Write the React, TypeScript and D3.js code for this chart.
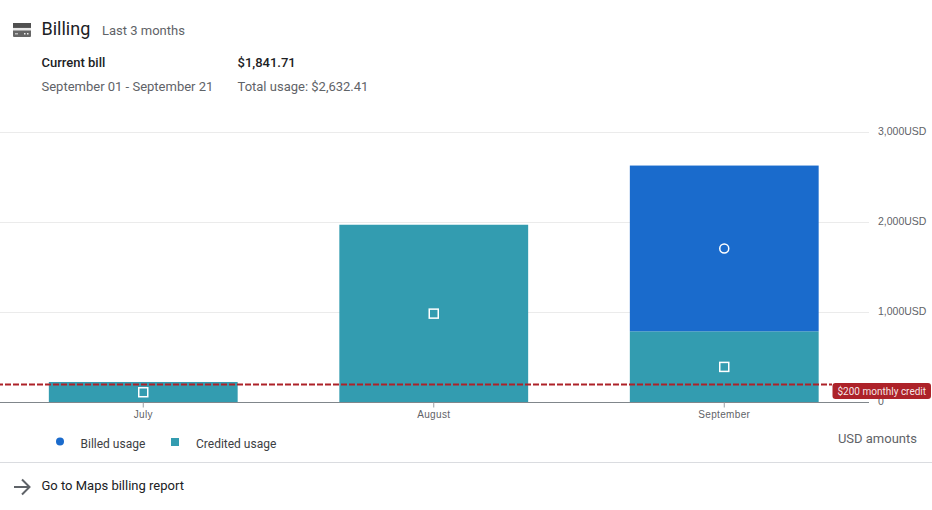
import React, { useEffect, useRef } from 'react';
import * as d3 from 'd3';

const width = 932;
const height = 510;

const months = ['July', 'August', 'September'];
const creditedUsage = [228, 1975, 791];
const billedUsage = [0, 0, 1841.71];
const yTicks = [0, 1000, 2000, 3000];
const monthlyCredit = 200;

const BILLED = '#1a6bcc';
const CREDITED = '#339cb0';
const CREDIT_RED = '#ad2229';
const FONT = 'Roboto, sans-serif';
const AXIS_FONT = '"Liberation Sans", Arial, sans-serif';

const x = d3.scaleBand<string>().domain(months).range([-2, 869.5]).paddingInner(0.35).paddingOuter(0.175);
const y = d3.scaleLinear().domain([0, 3000]).range([402.5, 132.5]);

const draw = (svg: d3.Selection<SVGSVGElement, any, any, any>) => {
  // gridlines + right hand labels
  const grid = svg.append('g');
  grid
    .selectAll('line')
    .data(yTicks.slice(1))
    .join('line')
    .attr('x1', 0)
    .attr('x2', 869)
    .attr('y1', (d) => y(d))
    .attr('y2', (d) => y(d))
    .attr('stroke', '#ebebeb');
  grid
    .selectAll('text')
    .data(yTicks)
    .join('text')
    .attr('x', 878)
    .attr('y', (d) => y(d) + 2.5)
    .attr('font-family', AXIS_FONT)
    .attr('font-size', 10.5)
    .attr('fill', '#5f6368')
    .text((d) => (d === 0 ? '0' : `${d3.format(',')(d)}USD`));

  const stacked = d3
    .stack<number>()
    .keys(['credited', 'billed'])
    .value((i, key) => (key === 'credited' ? creditedUsage[i] : billedUsage[i]))(months.map((_, i) => i));
  const colors = [CREDITED, BILLED];

  stacked.forEach((layer, k) => {
    svg
      .append('g')
      .selectAll('rect')
      .data(layer.filter((d) => d[1] > d[0]))
      .join('rect')
      .attr('x', (d) => x(months[d.data])!)
      .attr('width', x.bandwidth())
      .attr('y', (d) => y(d[1]))
      .attr('height', (d) => y(d[0]) - y(d[1]))
      .attr('fill', colors[k]);

    // white markers in the middle of each segment
    const middles = layer.filter((d) => d[1] > d[0]);
    const cx = (d: any) => x(months[d.data])! + x.bandwidth() / 2;
    const cy = (d: any) => y((d[0] + d[1]) / 2);
    if (k === 0) {
      svg
        .append('g')
        .selectAll('rect')
        .data(middles)
        .join('rect')
        .attr('x', (d) => cx(d) - 4.5)
        .attr('y', (d) => cy(d) - 4.5)
        .attr('width', 9)
        .attr('height', 9)
        .attr('fill', 'none')
        .attr('stroke', '#fff')
        .attr('stroke-width', 1.5);
    } else {
      svg
        .append('g')
        .selectAll('circle')
        .data(middles)
        .join('circle')
        .attr('cx', cx)
        .attr('cy', cy)
        .attr('r', 4.5)
        .attr('fill', 'none')
        .attr('stroke', '#fff')
        .attr('stroke-width', 1.5);
    }
  });

  // baseline and month ticks
  svg.append('line').attr('x1', 0).attr('x2', 869).attr('y1', y(0)).attr('y2', y(0)).attr('stroke', '#80868b');
  const xAxis = svg.append('g');
  xAxis
    .selectAll('line')
    .data(months)
    .join('line')
    .attr('x1', (d) => x(d)! + x.bandwidth() / 2)
    .attr('x2', (d) => x(d)! + x.bandwidth() / 2)
    .attr('y1', y(0))
    .attr('y2', y(0) + 5)
    .attr('stroke', '#9aa0a6');
  xAxis
    .selectAll('text')
    .data(months)
    .join('text')
    .attr('x', (d) => x(d)! + x.bandwidth() / 2)
    .attr('y', 418)
    .attr('text-anchor', 'middle')
    .attr('font-family', AXIS_FONT)
    .attr('font-size', 10)
    .attr('letter-spacing', 0.35)
    .attr('fill', '#5f6368')
    .text((d) => d);

  // $200 credit line and its tag
  svg
    .append('line')
    .attr('x1', 0)
    .attr('x2', 832)
    .attr('y1', y(monthlyCredit))
    .attr('y2', y(monthlyCredit))
    .attr('stroke', CREDIT_RED)
    .attr('stroke-width', 2)
    .attr('stroke-dasharray', '6 2')
    .attr('stroke-dashoffset', 3);
  svg
    .append('rect')
    .attr('x', 832.5)
    .attr('y', 383)
    .attr('width', 98.5)
    .attr('height', 16)
    .attr('rx', 3)
    .attr('fill', CREDIT_RED);
  svg
    .append('text')
    .attr('x', 837.5)
    .attr('y', 395)
    .attr('font-size', 10)
    .attr('fill', '#fff')
    .attr('fill-opacity', 0.9)
    .text('$200 monthly credit');

  // header
  const icon = svg.append('g').attr('transform', 'translate(13,23)');
  icon.append('rect').attr('width', 18).attr('height', 14).attr('rx', 1).attr('fill', '#666');
  icon.append('rect').attr('width', 18).attr('height', 4.5).attr('fill', '#4f4f4f');
  icon.append('rect').attr('y', 5).attr('width', 18).attr('height', 2.5).attr('fill', '#fff').attr('fill-opacity', 0.85);
  icon.append('rect').attr('x', 2).attr('y', 10).attr('width', 3).attr('height', 1.5).attr('fill', '#bbb');
  icon.append('rect').attr('x', 11).attr('y', 10).attr('width', 1.5).attr('height', 1.5).attr('fill', '#eee');
  icon.append('rect').attr('x', 14).attr('y', 10).attr('width', 1.5).attr('height', 1.5).attr('fill', '#eee');

  const label = (tx: number, ty: number, s: string, size: number, fill: string, weight = 400, anchor = 'start') =>
    svg
      .append('text')
      .attr('x', tx)
      .attr('y', ty)
      .attr('font-size', size)
      .attr('font-weight', weight)
      .attr('fill', fill)
      .attr('text-anchor', anchor)
      .text(s);

  label(41.5, 35, 'Billing', 18, '#202124');
  label(102, 35, 'Last 3 months', 13, '#5f6368');
  label(41.5, 67, 'Current bill', 13, '#202124', 500);
  label(237.5, 67, '$1,841.71', 13, '#202124', 500);
  label(41.5, 91, 'September 01 - September 21', 13, '#5f6368');
  label(237.5, 91, 'Total usage: $2,632.41', 13, '#5f6368');

  // legend
  svg.append('circle').attr('cx', 60).attr('cy', 441.5).attr('r', 4).attr('fill', BILLED);
  svg.append('rect').attr('x', 171).attr('y', 438).attr('width', 8).attr('height', 8).attr('fill', CREDITED);
  label(80.5, 448, 'Billed usage', 12, '#3c4043');
  label(196, 448, 'Credited usage', 12, '#3c4043');
  label(917, 443, 'USD amounts', 13, '#5f6368', 400, 'end');

  // footer
  svg.append('line').attr('x1', 0).attr('x2', 932).attr('y1', 462.5).attr('y2', 462.5).attr('stroke', '#dadce0');
  svg
    .append('path')
    .attr('d', 'M14 487H29M22 479.5L29.5 487L22 494.5')
    .attr('fill', 'none')
    .attr('stroke', '#5f6368')
    .attr('stroke-width', 2);
  label(41.5, 490, 'Go to Maps billing report', 13, '#202124');
};

export default function App() {
  const svgRef = useRef<SVGSVGElement | null>(null);

  useEffect(() => {
    if (svgRef.current === null) {
      return;
    }
    const svgEl: d3.Selection<SVGSVGElement, any, any, any> = d3.select(svgRef.current);
    svgEl.selectAll('*').remove();
    draw(svgEl);
  }, []);

  return (
    <svg
      ref={svgRef}
      width={width}
      height={height}
      fontFamily={FONT}
      style={{ position: 'fixed', left: 0, top: 0, display: 'block', background: '#fff' }}
    />
  );
}
